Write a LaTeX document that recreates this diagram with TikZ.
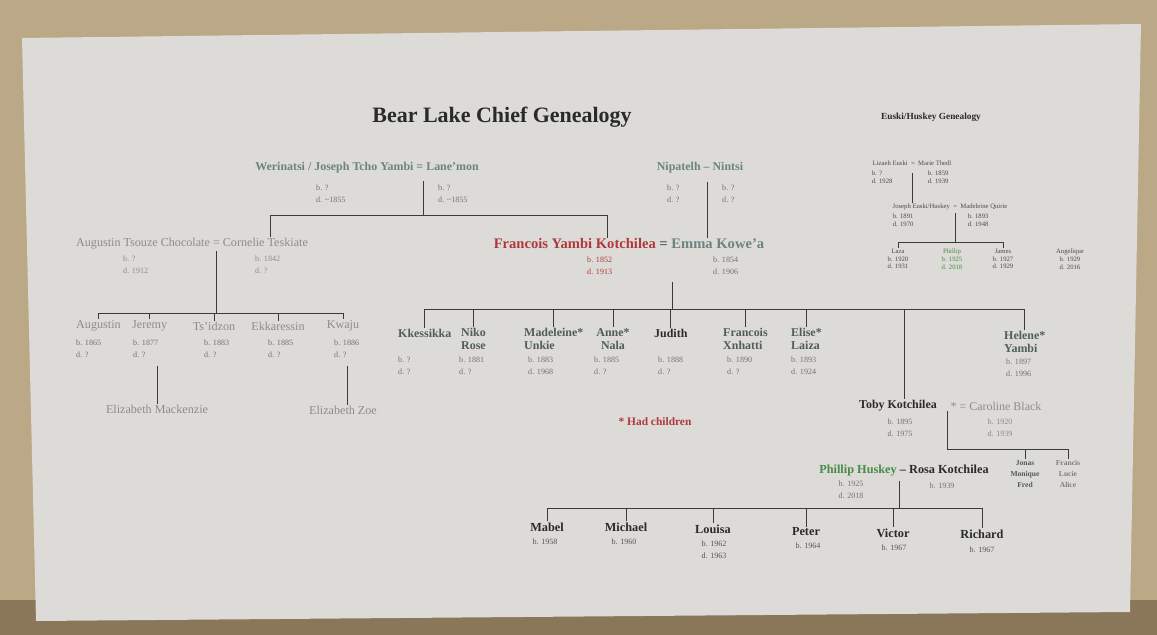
\documentclass[tikz,border=0pt]{standalone}
\usepackage{fontspec}
\setmainfont{Liberation Serif}
\usepackage{tikz}

\definecolor{fond}{HTML}{BBA886}
\definecolor{sol}{HTML}{8A7658}
\definecolor{carton}{HTML}{DCDBD7}
\definecolor{ligne}{HTML}{3A3A3A}
\definecolor{ardoise}{HTML}{4F5D5B}
\definecolor{sarcelle}{HTML}{6C8480}
\definecolor{gris}{HTML}{8C8C88}
\definecolor{datec}{HTML}{74746F}
\definecolor{rouge}{HTML}{B0383D}
\definecolor{vert}{HTML}{4C8A47}
\definecolor{noir}{HTML}{2A2A2A}

\begin{document}
\begin{tikzpicture}[x=0.02cm, y=-0.02cm,
  trait/.style={draw=ligne, line width=0.45pt},
  nom/.style={font=\bfseries\fontsize{6.8}{7.5}\selectfont, text=ardoise, inner sep=0.5pt, align=left},
  nomgris/.style={font=\fontsize{6.9}{7}\selectfont, text=gris, inner sep=0.5pt},
  dates/.style={font=\fontsize{4.6}{6.8}\selectfont, text=datec, inner sep=0.5pt, align=left},
  petitfils/.style={font=\bfseries\fontsize{7}{7.5}\selectfont, text=noir, inner sep=0.5pt},
  petit/.style={font=\fontsize{3.8}{4.4}\selectfont, text=noir!85, inner sep=0.3pt, align=center}]
\useasboundingbox (0,0) rectangle (1157,635);

% le carton
\fill[fond] (0,0) rectangle (1157,635);
\fill[sol] (0,600) rectangle (1157,635);
\fill[carton] (22,38) -- (1141,24) -- (1130,612) -- (36,621) -- cycle;

% les titres
\node[font=\bfseries\fontsize{12.5}{14}\selectfont, text=noir] (titre) at (502,117) {Bear Lake Chief Genealogy};
\node[font=\bfseries\fontsize{5.3}{6}\selectfont, text=noir] (titreE) at (931,117) {Euski/Huskey Genealogy};

% les grands-parents
\node[nom, text=sarcelle] (werinatsi) at (367,168) {Werinatsi / Joseph Tcho Yambi = Lane’mon};
\node[dates, anchor=west] (werinatsiD) at (315,194) {b. ?\\d. \textasciitilde1855};
\node[dates, anchor=west] (lanemonD) at (437,194) {b. ?\\d. \textasciitilde1855};
\node[nom, text=sarcelle] (napatelh) at (700,168) {Nipatelh – Nintsi};
\node[dates, anchor=west] (napatelhD) at (666,194) {b. ?\\d. ?};
\node[dates, anchor=west] (nintsiD) at (721,194) {b. ?\\d. ?};

% les parents
\node[nomgris] (augustinT) at (192,244) {Augustin Tsouze Chocolate = Cornelie Teskiate};
\node[dates, anchor=west, text=gris] (augustinTD) at (122,265) {b. ?\\d. 1912};
\node[dates, anchor=west, text=gris] (cornelieD) at (254,265) {b. 1842\\d. ?};
\node[nom, font=\bfseries\fontsize{8.3}{9}\selectfont] (francois) at (629,244)
  {\textcolor{rouge}{Francois Yambi Kotchilea} = \textcolor{sarcelle}{Emma Kowe’a}};
\node[dates, anchor=west, text=rouge] (francoisD) at (586,266) {b. 1852\\d. 1913};
\node[dates, anchor=west] (emmaD) at (712,266) {b. 1854\\d. 1906};

\coordinate (cW) at (423,181);
\coordinate (bW) at (423,215);
\coordinate (bWg) at (270,215);
\coordinate (bWd) at (607,215);
\coordinate (cN) at (707,182);
\coordinate (cA) at (216,251);
\coordinate (bA) at (216,313);
\coordinate (cF) at (672,282);
\coordinate (bF) at (672,309);

\draw[trait] (cW) -- (bW);
\draw[trait] (augustinT.north -| bWg) -- (bWg) -- (bWd) -- (francois.north -| bWd);
\draw[trait] (cN) -- (francois.north -| cN);
\draw[trait] (cA) -- (bA);
\draw[trait] (cF) -- (bF);

% enfants de Augustin et Cornelie
\node[nomgris, anchor=west] (augustin) at (75,326) {Augustin};
\node[nomgris, anchor=west] (jeremy) at (131,326) {Jeremy};
\node[nomgris] (tsidzon) at (214,326) {Ts’idzon};
\node[nomgris] (ekkaressin) at (278,326) {Ekkaressin};
\node[nomgris] (kwaju) at (343,326) {Kwaju};
\node[dates, anchor=west] (augustinD) at (75,349) {b. 1865\\d. ?};
\node[dates, anchor=west] (jeremyD) at (132,349) {b. 1877\\d. ?};
\node[dates, anchor=west] (tsidzonD) at (203,349) {b. 1883\\d. ?};
\node[dates, anchor=west] (ekkaressinD) at (267,349) {b. 1885\\d. ?};
\node[dates, anchor=west] (kwajuD) at (333,349) {b. 1886\\d. ?};
\node[nomgris] (eliM) at (157,409) {Elizabeth Mackenzie};
\node[nomgris] (eliZ) at (343,410) {Elizabeth Zoe};

\draw[trait] (augustin.north) -- (augustin.north |- bA) -- (kwaju.north |- bA) -- (kwaju.north);
\draw[trait] (jeremy.north |- bA) -- (jeremy.north);
\draw[trait] (tsidzon.north |- bA) -- (tsidzon.north);
\draw[trait] (ekkaressin.north |- bA) -- (ekkaressin.north);
\coordinate (cJ) at (157,366);
\coordinate (cK) at (347,366);
\draw[trait] (cJ) -- (eliM.north -| cJ);
\draw[trait] (cK) -- (eliZ.north -| cK);

% enfants de Francois et Emma
\node[nom, anchor=west] (kkessikka) at (397,333) {Kkessikka};
\node[nom, anchor=west] (niko) at (460,339) {Niko\\Rose};
\node[nom, anchor=west] (madeleine) at (523,339) {Madeleine*\\Unkie};
\node[nom, align=center] (anne) at (613,339) {Anne*\\Nala};
\node[nom, anchor=west, text=noir] (judith) at (653,333) {Judith};
\node[nom, anchor=west] (xnhatti) at (722,339) {Francois\\Xnhatti};
\node[nom, anchor=west] (elise) at (790,339) {Elise*\\Laiza};
\node[nom, anchor=west] (helene) at (1003,342) {Helene*\\Yambi};
\node[dates, anchor=west] (kkessikkaD) at (397,366) {b. ?\\d. ?};
\node[dates, anchor=west] (nikoD) at (458,366) {b. 1881\\d. ?};
\node[dates, anchor=west] (madeleineD) at (527,366) {b. 1883\\d. 1968};
\node[dates, anchor=west] (anneD) at (593,366) {b. 1885\\d. ?};
\node[dates, anchor=west] (judithD) at (657,366) {b. 1888\\d. ?};
\node[dates, anchor=west] (xnhattiD) at (726,366) {b. 1890\\d. ?};
\node[dates, anchor=west] (eliseD) at (790,366) {b. 1893\\d. 1924};
\node[dates, anchor=west] (heleneD) at (1005,368) {b. 1897\\d. 1996};

\node[font=\bfseries\fontsize{6.5}{7}\selectfont, text=rouge] (legende) at (655,422) {* Had children};

% Toby et Caroline
\node[nom, text=noir, font=\bfseries\fontsize{6.8}{7}\selectfont] (toby) at (898,406) {Toby Kotchilea};
\node[nomgris, font=\fontsize{6.8}{7}\selectfont] (caroline) at (996,406) {*\ = Caroline Black};
\node[dates, align=center] (tobyD) at (900,428) {b. 1895\\d. 1975};
\node[dates, align=center, text=gris] (carolineD) at (1000,428) {b. 1920\\d. 1939};

\draw[trait] (kkessikka.north) -- (kkessikka.north |- bF) -- (helene.north |- bF) -- (helene.north);
\draw[trait] (niko.north |- bF) -- (niko.north);
\draw[trait] (madeleine.north |- bF) -- (madeleine.north);
\draw[trait] (anne.north |- bF) -- (anne.north);
\draw[trait] (judith.north |- bF) -- (judith.north);
\draw[trait] (xnhatti.north |- bF) -- (xnhatti.north);
\draw[trait] (elise.north |- bF) -- (elise.north);
\coordinate (bTo) at (904,309);
\draw[trait] (bTo) -- (toby.north -| bTo);

% leurs enfants
\node[font=\bfseries\fontsize{4.3}{6.2}\selectfont, text=ardoise, align=center, inner sep=0.5pt] (jonas) at (1025,474) {Jonas\\Monique\\Fred};
\node[font=\bfseries\fontsize{4.3}{6.2}\selectfont, text=gris!90!black, align=center, inner sep=0.5pt] (francis) at (1068,474) {Francis\\Lucie\\Alice};
\coordinate (cT) at (947,411);
\coordinate (bT) at (947,449);
\draw[trait] (cT) -- (bT) -- (francis.north |- bT) -- (francis.north);
\draw[trait] (jonas.north |- bT) -- (jonas.north);

% Phillip et Rosa
\node[nom, text=noir, font=\bfseries\fontsize{7}{7.5}\selectfont] (phillip) at (904,471)
  {\textcolor{vert}{Phillip Huskey} – Rosa Kotchilea};
\node[dates, align=center] (phillipD) at (851,490) {b. 1925\\d. 2018};
\node[dates] (rosaD) at (942,486) {b. 1939};
\coordinate (cP) at (899,481);
\coordinate (bP) at (899,508);
\draw[trait] (cP) -- (bP);

% les petits-enfants
\node[petitfils] (mabel) at (547,527) {Mabel};
\node[petitfils] (michael) at (626,527) {Michael};
\node[petitfils] (louisa) at (713,529) {Louisa};
\node[petitfils] (peter) at (806,532) {Peter};
\node[petitfils] (victor) at (893,533) {Victor};
\node[petitfils] (richard) at (982,534) {Richard};
\node[dates, align=center, text=noir!80] (mabelD) at (545,542) {b. 1958};
\node[dates, align=center, text=noir!80] (michaelD) at (624,542) {b. 1960};
\node[dates, align=center, text=noir!80] (louisaD) at (714,550) {b. 1962\\d. 1963};
\node[dates, align=center, text=noir!80] (peterD) at (808,546) {b. 1964};
\node[dates, align=center, text=noir!80] (victorD) at (894,548) {b. 1967};
\node[dates, align=center, text=noir!80] (richardD) at (982,550) {b. 1967};

\draw[trait] (mabel.north) -- (mabel.north |- bP) -- (richard.north |- bP) -- (richard.north);
\draw[trait] (michael.north |- bP) -- (michael.north);
\draw[trait] (louisa.north |- bP) -- (louisa.north);
\draw[trait] (peter.north |- bP) -- (peter.north);
\draw[trait] (victor.north |- bP) -- (victor.north);

% Euski / Huskey
\node[petit] (lizaeh) at (912,163) {Lizaeh Euski\enspace=\enspace Marie Thedl};
\node[petit, align=left, anchor=west] (lizaehD) at (871,177) {b. ?\\d. 1928};
\node[petit, align=left, anchor=west] (marieD) at (927,177) {b. 1859\\d. 1939};
\node[petit] (joseph) at (950,207) {Joseph Euski/Huskey\enspace=\enspace Madeleine Quirie};
\node[petit, align=left, anchor=west] (josephD) at (892,220) {b. 1891\\d. 1970};
\node[petit, align=left, anchor=west] (madeleineQD) at (967,220) {b. 1893\\d. 1948};
\node[petit] (laza) at (898,259) {Laza\\b. 1920\\d. 1931};
\node[petit, text=vert] (phillipE) at (952,259) {Phillip\\b. 1925\\d. 2018};
\node[petit] (james) at (1003,259) {James\\b. 1927\\d. 1929};
\node[petit] (angelique) at (1070,259) {Angelique\\b. 1929\\d. 2016};
\coordinate (cL) at (912,173);
\coordinate (cJo) at (955,213);
\coordinate (bJo) at (955,242);
\draw[trait, line width=0.3pt] (cL) -- (joseph.north -| cL);
\draw[trait, line width=0.3pt] (cJo) -- (bJo);
\draw[trait, line width=0.3pt] (laza.north) -- (laza.north |- bJo) -- (james.north |- bJo) -- (james.north);

\end{tikzpicture}
\end{document}
